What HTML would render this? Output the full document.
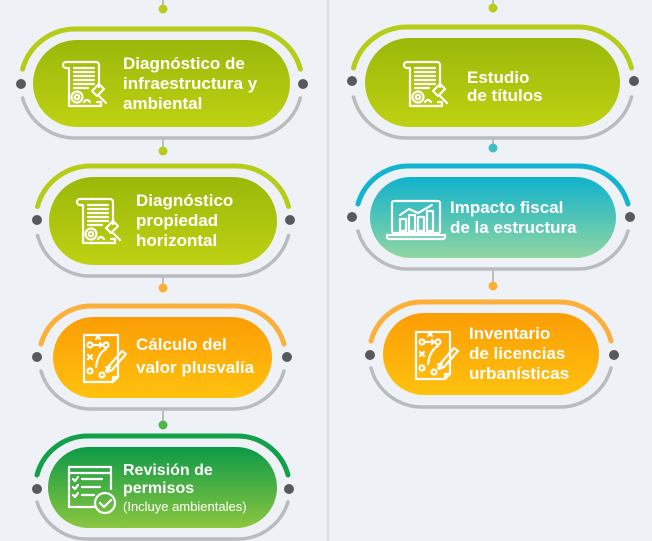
<!DOCTYPE html>
<html><head><meta charset="utf-8"><style>
html,body{margin:0;padding:0;background:#eef2f6;}
svg{display:block}
text{font-family:"Liberation Sans",sans-serif;font-weight:bold;fill:#fff;}
</style></head><body>
<svg width="652" height="541" viewBox="0 0 652 541" xmlns="http://www.w3.org/2000/svg">
<defs>
<linearGradient id="gl" x1="0" y1="0" x2="0" y2="1"><stop offset="0" stop-color="#9ab80a"/><stop offset="1" stop-color="#bfd112"/></linearGradient>
<linearGradient id="go" x1="0" y1="0" x2="0" y2="1"><stop offset="0" stop-color="#fb9d05"/><stop offset="1" stop-color="#ffc10e"/></linearGradient>
<linearGradient id="gg" x1="0" y1="0" x2="0" y2="1"><stop offset="0" stop-color="#0c9a48"/><stop offset="1" stop-color="#8cc63f"/></linearGradient>
<linearGradient id="gc" x1="0" y1="0" x2="0" y2="1"><stop offset="0" stop-color="#10b2cd"/><stop offset="1" stop-color="#90d6a2"/></linearGradient>
<g id="doc" fill="none" stroke="#fff" stroke-width="2.2" stroke-linecap="round" stroke-linejoin="round">
<path d="M4,4 h30 a3,3 0 0 1 3,3 v22 M4,4 a3,3 0 0 0 0,6 h3 v38 h32 v-4 h-4"/>
<path d="M12,10 h20 M12,14 h20 M12,18 h20 M12,22 h20 M12,26 h20 M12,30 h14"/>
<circle cx="15" cy="39" r="5.5"/><circle cx="15" cy="39" r="2.2"/>
<path d="M30,33 l7,-7 l5,5 l-7,7 z M36,37 l8,8"/>
<path d="M22,44 q3,-4 6,0"/>
</g>
<g id="strat" fill="none" stroke="#fff" stroke-width="2.2" stroke-linecap="round" stroke-linejoin="round">
<path d="M2,2 h34 v42 l-5,5 h-29 z M31,49 v-5 h5"/>
<circle cx="8" cy="12" r="2.5"/><circle cx="24" cy="12" r="2.5"/><circle cx="8" cy="38" r="2.5"/><circle cx="20" cy="42" r="2.5"/>
<path d="M14,2 l4,4 M18,2 l-4,4 M6,22 l4,4 M10,22 l-4,4 M24,34 l4,4 M28,34 l-4,4 M11,12 h9 M18,10 l2,2 -2,2 M14,34 q2,-14 10,-18"/>
<path d="M26,34 l14,-16 l4,3 l-14,16 l-5,2 z"/>
</g>
<g id="check" fill="none" stroke="#fff" stroke-width="2.2" stroke-linecap="round" stroke-linejoin="round">
<path d="M2,2 h42 v22 M2,2 v40 h26 M2,8 h42"/>
<path d="M6,14 l2,2 3,-4 M6,22 l2,2 3,-4 M6,30 l2,2 3,-4 M15,14 h20 M15,22 h18 M15,30 h12"/>
<circle cx="38" cy="38" r="10"/><path d="M33,38 l4,4 7,-7"/>
</g>
<g id="lap" fill="none" stroke="#fff" stroke-width="2.2" stroke-linecap="round" stroke-linejoin="round">
<rect x="6" y="2" width="48" height="32" rx="2"/>
<path d="M1,36 h58 v2 a2,2 0 0 1 -2,2 h-54 a2,2 0 0 1 -2,-2 z"/>
<rect x="14" y="20" width="6" height="12"/><rect x="23" y="16" width="6" height="16"/><rect x="32" y="18" width="6" height="14"/><rect x="41" y="12" width="6" height="20"/>
<path d="M14,16 l9,-6 l9,4 l14,-8"/>
</g>
</defs>

<line x1="328" y1="0" x2="328" y2="541" stroke="#d3d7dc" stroke-width="1.5"/>

<!-- connectors -->
<g stroke="#9a9ca0" stroke-width="1.2">
<line x1="163" y1="0" x2="163" y2="8"/><line x1="163" y1="139" x2="163" y2="150"/><line x1="163" y1="277" x2="163" y2="288"/><line x1="163" y1="410" x2="163" y2="425"/>
<line x1="493" y1="0" x2="493" y2="8"/><line x1="493" y1="137" x2="493" y2="148"/><line x1="493" y1="270" x2="493" y2="286"/>
</g>
<g>
<circle cx="163" cy="9" r="4.5" fill="#b5cc18"/><circle cx="163" cy="151" r="4.5" fill="#b5cc18"/><circle cx="163" cy="288" r="4.5" fill="#fbb033"/><circle cx="163" cy="425" r="4.5" fill="#4cb848"/>
<circle cx="493" cy="8" r="4.5" fill="#b5cc18"/><circle cx="493" cy="148" r="4.5" fill="#3fc0c0"/><circle cx="493" cy="286" r="4.5" fill="#fbb033"/>
</g>

<!-- pill 1: x33 y40 w257 h87 -->
<g>
<path d="M22.6,69.1 A54.5,54.5 0 0 1 76.5,29 L246.5,29 A54.5,54.5 0 0 1 300.4,69.1" fill="none" stroke="#b5cc18" stroke-width="5" stroke-linecap="round"/>
<path d="M22.6,97.9 A54.5,54.5 0 0 0 76.5,138 L246.5,138 A54.5,54.5 0 0 0 300.4,97.9" fill="none" stroke="#b9bbbe" stroke-width="3.5" stroke-linecap="round"/>
<rect x="33" y="40" width="257" height="87" rx="43.5" fill="url(#gl)"/>
<circle cx="21" cy="84" r="5" fill="#58595b"/><circle cx="303" cy="84" r="5" fill="#58595b"/>
<use href="#doc" x="62" y="58"/>
<text x="123" y="69" font-size="17">Diagnóstico de</text>
<text x="123" y="89" font-size="17">infraestructura y</text>
<text x="123" y="109" font-size="17">ambiental</text>
</g>

<!-- pill 2: x49 y177 w228 h88 -->
<g>
<path d="M37.5,206.5 A55,55 0 0 1 93,166 L233,166 A55,55 0 0 1 288.5,206.5" fill="none" stroke="#b5cc18" stroke-width="5" stroke-linecap="round"/>
<path d="M37.5,235.5 A55,55 0 0 0 93,276 L233,276 A55,55 0 0 0 288.5,235.5" fill="none" stroke="#b9bbbe" stroke-width="3.5" stroke-linecap="round"/>
<rect x="49" y="177" width="228" height="88" rx="44" fill="url(#gl)"/>
<circle cx="37" cy="220" r="5" fill="#58595b"/><circle cx="290" cy="220" r="5" fill="#58595b"/>
<use href="#doc" x="76" y="195"/>
<text x="136" y="206" font-size="17">Diagnóstico</text>
<text x="136" y="226" font-size="17">propiedad</text>
<text x="136" y="246" font-size="17">horizontal</text>
</g>

<!-- pill 3: x53 y317 w219 h81 -->
<g>
<path d="M41,344 A52.5,52.5 0 0 1 93.5,306 L231.5,306 A52.5,52.5 0 0 1 284,344" fill="none" stroke="#fbb03b" stroke-width="5" stroke-linecap="round"/>
<path d="M41,371 A52.5,52.5 0 0 0 93.5,409 L231.5,409 A52.5,52.5 0 0 0 284,371" fill="none" stroke="#b9bbbe" stroke-width="3.5" stroke-linecap="round"/>
<rect x="53" y="317" width="219" height="81" rx="40.5" fill="url(#go)"/>
<circle cx="37" cy="357" r="5" fill="#58595b"/><circle cx="287" cy="357" r="5" fill="#58595b"/>
<use href="#strat" x="82" y="333"/>
<text x="136" y="350" font-size="17">Cálculo del</text>
<text x="136" y="373" font-size="17">valor plusvalía</text>
</g>

<!-- pill 4: x48 y447 w229 h81 -->
<g>
<path d="M37,475 A52.5,52.5 0 0 1 88.5,436 L236.5,436 A52.5,52.5 0 0 1 288,475" fill="none" stroke="#13a04a" stroke-width="5" stroke-linecap="round"/>
<path d="M37,502 A52.5,52.5 0 0 0 88.5,539 L236.5,539 A52.5,52.5 0 0 0 288,502" fill="none" stroke="#b9bbbe" stroke-width="3.5" stroke-linecap="round"/>
<rect x="48" y="447" width="229" height="81" rx="40.5" fill="url(#gg)"/>
<circle cx="37" cy="489" r="5" fill="#58595b"/><circle cx="289" cy="489" r="5" fill="#58595b"/>
<use href="#check" x="67" y="465"/>
<text x="123" y="475" font-size="16">Revisión de</text>
<text x="123" y="493" font-size="16">permisos</text>
<text x="123" y="511" font-size="13" font-weight="normal" style="font-weight:normal">(Incluye ambientales)</text>
</g>

<!-- R1: x365 y38 w255 h89 -->
<g>
<path d="M353.5,68 A55.5,55.5 0 0 1 409.5,27 L575.5,27 A55.5,55.5 0 0 1 631.5,68" fill="none" stroke="#b5cc18" stroke-width="5" stroke-linecap="round"/>
<path d="M353.5,97 A55.5,55.5 0 0 0 409.5,138 L575.5,138 A55.5,55.5 0 0 0 631.5,97" fill="none" stroke="#b9bbbe" stroke-width="3.5" stroke-linecap="round"/>
<rect x="365" y="38" width="255" height="89" rx="44.5" fill="url(#gl)"/>
<circle cx="352" cy="81" r="5" fill="#58595b"/><circle cx="634" cy="81" r="5" fill="#58595b"/>
<use href="#doc" x="403" y="58"/>
<text x="467" y="83" font-size="17">Estudio</text>
<text x="467" y="101" font-size="17">de títulos</text>
</g>

<!-- R2: x370 y177 w246 h81 -->
<g>
<path d="M358,204 A52.5,52.5 0 0 1 410.5,166 L575.5,166 A52.5,52.5 0 0 1 628,204" fill="none" stroke="#12b4cf" stroke-width="5" stroke-linecap="round"/>
<path d="M358,231 A52.5,52.5 0 0 0 410.5,269 L575.5,269 A52.5,52.5 0 0 0 628,231" fill="none" stroke="#b9bbbe" stroke-width="3.5" stroke-linecap="round"/>
<rect x="370" y="177" width="246" height="81" rx="40.5" fill="url(#gc)"/>
<circle cx="352" cy="217" r="5" fill="#58595b"/><circle cx="630" cy="217" r="5" fill="#58595b"/>
<use href="#lap" x="386" y="199"/>
<text x="450" y="213" font-size="17">Impacto fiscal</text>
<text x="450" y="233" font-size="17">de la estructura</text>
</g>

<!-- R3: x383 y313 w216 h82 -->
<g>
<path d="M371,341 A53,53 0 0 1 424,302 L558,302 A53,53 0 0 1 611,341" fill="none" stroke="#fbb03b" stroke-width="5" stroke-linecap="round"/>
<path d="M371,368 A53,53 0 0 0 424,407 L558,407 A53,53 0 0 0 611,368" fill="none" stroke="#b9bbbe" stroke-width="3.5" stroke-linecap="round"/>
<rect x="383" y="313" width="216" height="82" rx="41" fill="url(#go)"/>
<circle cx="370" cy="355" r="5" fill="#58595b"/><circle cx="614" cy="355" r="5" fill="#58595b"/>
<use href="#strat" x="414" y="330"/>
<text x="469" y="339" font-size="17">Inventario</text>
<text x="469" y="359" font-size="17">de licencias</text>
<text x="469" y="379" font-size="17">urbanísticas</text>
</g>
</svg>
</body></html>
